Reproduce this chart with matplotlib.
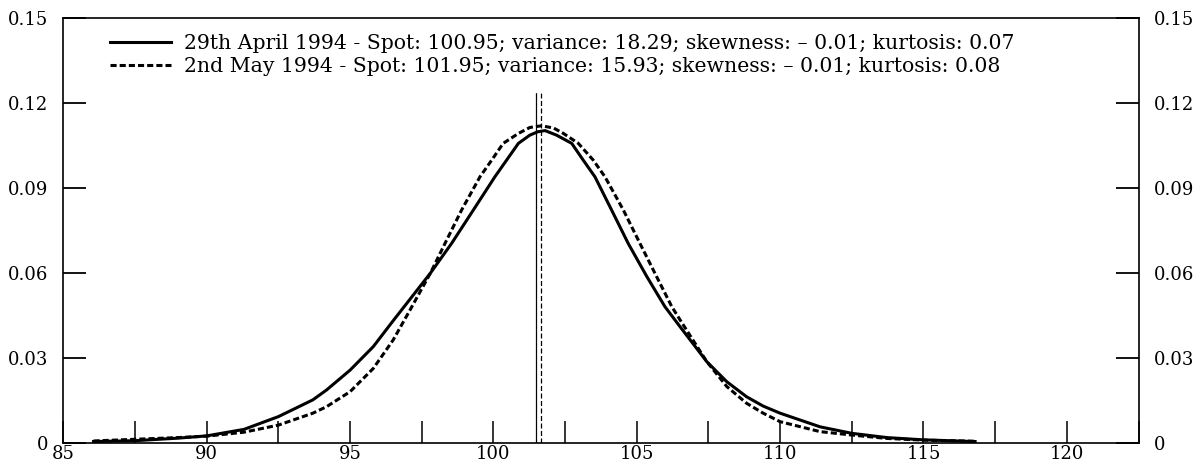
import matplotlib
matplotlib.use("Agg")
import matplotlib.pyplot as plt

# values
x_apr = [86.05, 87.5, 89.0, 90.0, 91.3, 92.5, 93.7, 94.18, 95.0, 95.81, 96.5, 97.8,
         98.54, 99.30, 100.05, 100.46, 100.87, 101.27, 101.55, 101.8, 102.2, 102.73,
         103.13, 103.54, 104.12, 104.70, 105.35, 105.98, 106.51, 107.44, 108.14, 108.83,
         109.41, 110.0, 111.39, 112.5, 113.72, 115.0, 116.8]
y_apr = [0.0004, 0.0007, 0.0016, 0.0024, 0.0047, 0.0092, 0.0151, 0.0186, 0.0256, 0.0339,
         0.0430, 0.0598, 0.0703, 0.0821, 0.0938, 0.0997, 0.1056, 0.1085, 0.1097, 0.1101,
         0.1085, 0.1056, 0.0997, 0.0938, 0.0821, 0.0703, 0.0586, 0.0480, 0.0409, 0.0286,
         0.0215, 0.0162, 0.0129, 0.0104, 0.0056, 0.0033, 0.0018, 0.0010, 0.0004]

x_may = [86.05, 87.5, 89.0, 90.0, 91.3, 92.5, 93.7, 94.18, 95.0, 95.81, 96.5, 97.09,
         97.8, 98.31, 98.89, 99.53, 99.94, 100.34, 100.87, 101.27, 101.68, 102.1, 102.44,
         102.96, 103.48, 103.89, 104.53, 105.11, 105.69, 106.22, 106.51, 107.44, 108.14,
         108.83, 109.41, 110.0, 111.39, 112.5, 113.72, 115.0, 116.8]
y_may = [0.0006, 0.0012, 0.0018, 0.0023, 0.0037, 0.0062, 0.0104, 0.0127, 0.0180, 0.0262,
         0.0362, 0.0468, 0.0598, 0.0703, 0.0821, 0.0938, 0.0997, 0.1056, 0.1091, 0.1112,
         0.1118, 0.1110, 0.1091, 0.1056, 0.0997, 0.0938, 0.0821, 0.0703, 0.0586, 0.0480,
         0.0433, 0.0286, 0.0198, 0.0139, 0.0104, 0.0074, 0.0039, 0.0027, 0.0015, 0.0009,
         0.0005]

mean_apr = 101.5
mean_may = 101.67

labels = ["29th April 1994 - Spot: 100.95; variance: 18.29; skewness: \u2013 0.01; kurtosis: 0.07",
          "2nd May 1994 - Spot: 101.95; variance: 15.93; skewness: \u2013 0.01; kurtosis: 0.08"]

xticks_major = [85, 90, 95, 100, 105, 110, 115, 120]
xticks_minor = [87.5, 92.5, 97.5, 102.5, 107.5, 112.5, 117.5, 122.5]
yticks = [0, 0.03, 0.06, 0.09, 0.12, 0.15]
ytick_labels = ["0", "0.03", "0.06", "0.09", "0.12", "0.15"]

plt.rcParams['font.family'] = ['DejaVu Serif']
plt.rcParams['font.size'] = 13

fig = plt.figure(figsize=(12.03, 4.73), dpi=100)
ax = fig.add_axes([0.0527, 0.0641, 0.8937, 0.8989])

ax.plot(x_apr, y_apr, color='black', lw=2.2, ls='-', label=labels[0])
ax.plot(x_may, y_may, color='black', lw=2.2, ls=(0, (2, 1)), label=labels[1])
ax.axvline(mean_apr, color='black', lw=0.9)
ax.axvline(mean_may, color='black', lw=0.9, ls=(0, (4, 2)))

ax.set_xlim(85, 122.5)
ax.set_ylim(0, 0.15)
ax.set_xticks(xticks_major)
ax.set_xticks(xticks_minor, minor=True)
ax.set_yticks(yticks)
ax.set_yticklabels(ytick_labels)
ax.tick_params(axis='x', which='both', direction='in', length=16, width=1.1, pad=1.5,
               top=False, bottom=True, labelsize=13)
ax.tick_params(axis='y', which='both', direction='in', length=16.5, width=1.3, pad=11,
               left=True, right=True, labelleft=True, labelright=True, labelsize=13)
for s in ax.spines.values():
    s.set_linewidth(1.2)

leg = ax.legend(loc='upper left', bbox_to_anchor=(0.029, 0.998), borderaxespad=0,
                frameon=True, fancybox=False, framealpha=1, facecolor='white',
                edgecolor='white', borderpad=0.75, handlelength=3.0, handletextpad=0.65,
                labelspacing=0.23, fontsize=14.7)
leg.set_zorder(2.4)

fig.savefig("out.png", dpi=100)
